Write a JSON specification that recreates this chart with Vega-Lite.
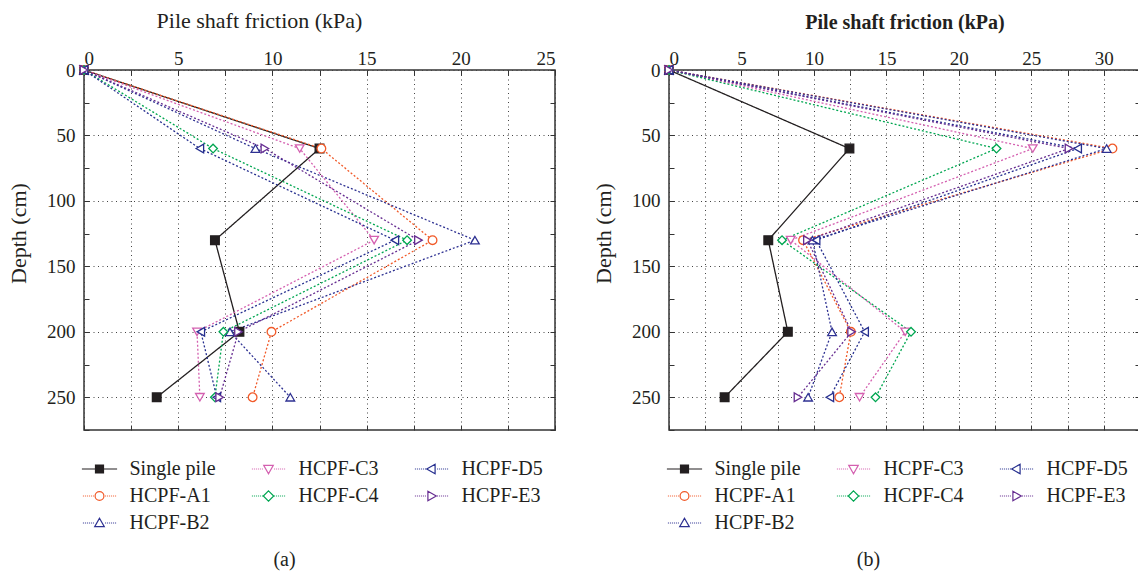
{
  "$schema": "https://vega.github.io/schema/vega-lite/v6.json",
  "padding": {"left": 6, "top": 8, "right": 0, "bottom": 0},
  "background": "white",
  "config": {
    "font": "Liberation Serif",
    "view": {"stroke": "#333333", "strokeWidth": 1.5},
    "axis": {
      "labelFont": "Liberation Serif", "titleFont": "Liberation Serif",
      "labelColor": "#231f20", "titleColor": "#231f20",
      "labelFontSize": 19, "titleFontSize": 22, "titleFontWeight": "normal",
      "domain": false, "tickColor": "#333333", "tickSize": -5, "tickWidth": 1,
      "gridColor": "#444444", "gridDash": [1, 3.5], "gridWidth": 1
    },
    "legend": {"labelFont": "Liberation Serif", "labelFontSize": 20, "labelColor": "#231f20"},
    "title": {"font": "Liberation Serif", "fontSize": 20, "fontWeight": "normal", "color": "#231f20"}
  },
  "datasets": {
    "a": [
      {"series": "Single pile", "depth": 0, "friction": 0},
      {"series": "Single pile", "depth": 60, "friction": 12.5},
      {"series": "Single pile", "depth": 130, "friction": 6.95},
      {"series": "Single pile", "depth": 200, "friction": 8.25},
      {"series": "Single pile", "depth": 250, "friction": 3.86},
      {"series": "HCPF-A1", "depth": 0, "friction": 0},
      {"series": "HCPF-A1", "depth": 60, "friction": 12.6},
      {"series": "HCPF-A1", "depth": 130, "friction": 18.5},
      {"series": "HCPF-A1", "depth": 200, "friction": 9.95},
      {"series": "HCPF-A1", "depth": 250, "friction": 8.95},
      {"series": "HCPF-B2", "depth": 0, "friction": 0},
      {"series": "HCPF-B2", "depth": 60, "friction": 9.1},
      {"series": "HCPF-B2", "depth": 130, "friction": 20.75},
      {"series": "HCPF-B2", "depth": 200, "friction": 7.75},
      {"series": "HCPF-B2", "depth": 250, "friction": 10.95},
      {"series": "HCPF-C3", "depth": 0, "friction": 0},
      {"series": "HCPF-C3", "depth": 60, "friction": 11.45},
      {"series": "HCPF-C3", "depth": 130, "friction": 15.4},
      {"series": "HCPF-C3", "depth": 200, "friction": 6.0},
      {"series": "HCPF-C3", "depth": 250, "friction": 6.15},
      {"series": "HCPF-C4", "depth": 0, "friction": 0},
      {"series": "HCPF-C4", "depth": 60, "friction": 6.85},
      {"series": "HCPF-C4", "depth": 130, "friction": 17.15},
      {"series": "HCPF-C4", "depth": 200, "friction": 7.4},
      {"series": "HCPF-C4", "depth": 250, "friction": 6.95},
      {"series": "HCPF-D5", "depth": 0, "friction": 0},
      {"series": "HCPF-D5", "depth": 60, "friction": 6.15},
      {"series": "HCPF-D5", "depth": 130, "friction": 16.5},
      {"series": "HCPF-D5", "depth": 200, "friction": 6.2},
      {"series": "HCPF-D5", "depth": 250, "friction": 7.05},
      {"series": "HCPF-E3", "depth": 0, "friction": 0},
      {"series": "HCPF-E3", "depth": 60, "friction": 9.6},
      {"series": "HCPF-E3", "depth": 130, "friction": 17.75},
      {"series": "HCPF-E3", "depth": 200, "friction": 8.2},
      {"series": "HCPF-E3", "depth": 250, "friction": 7.2}
    ],
    "b": [
      {"series": "Single pile", "depth": 0, "friction": 0},
      {"series": "Single pile", "depth": 60, "friction": 12.45},
      {"series": "Single pile", "depth": 130, "friction": 6.85},
      {"series": "Single pile", "depth": 200, "friction": 8.2},
      {"series": "Single pile", "depth": 250, "friction": 3.84},
      {"series": "HCPF-A1", "depth": 0, "friction": 0},
      {"series": "HCPF-A1", "depth": 60, "friction": 30.6},
      {"series": "HCPF-A1", "depth": 130, "friction": 9.25},
      {"series": "HCPF-A1", "depth": 200, "friction": 12.55},
      {"series": "HCPF-A1", "depth": 250, "friction": 11.75},
      {"series": "HCPF-B2", "depth": 0, "friction": 0},
      {"series": "HCPF-B2", "depth": 60, "friction": 30.2},
      {"series": "HCPF-B2", "depth": 130, "friction": 9.9},
      {"series": "HCPF-B2", "depth": 200, "friction": 11.25},
      {"series": "HCPF-B2", "depth": 250, "friction": 9.6},
      {"series": "HCPF-C3", "depth": 0, "friction": 0},
      {"series": "HCPF-C3", "depth": 60, "friction": 25.1},
      {"series": "HCPF-C3", "depth": 130, "friction": 8.4},
      {"series": "HCPF-C3", "depth": 200, "friction": 16.3},
      {"series": "HCPF-C3", "depth": 250, "friction": 13.15},
      {"series": "HCPF-C4", "depth": 0, "friction": 0},
      {"series": "HCPF-C4", "depth": 60, "friction": 22.6},
      {"series": "HCPF-C4", "depth": 130, "friction": 7.8},
      {"series": "HCPF-C4", "depth": 200, "friction": 16.7},
      {"series": "HCPF-C4", "depth": 250, "friction": 14.25},
      {"series": "HCPF-D5", "depth": 0, "friction": 0},
      {"series": "HCPF-D5", "depth": 60, "friction": 28.2},
      {"series": "HCPF-D5", "depth": 130, "friction": 10.15},
      {"series": "HCPF-D5", "depth": 200, "friction": 13.5},
      {"series": "HCPF-D5", "depth": 250, "friction": 11.1},
      {"series": "HCPF-E3", "depth": 0, "friction": 0},
      {"series": "HCPF-E3", "depth": 60, "friction": 27.6},
      {"series": "HCPF-E3", "depth": 130, "friction": 9.55},
      {"series": "HCPF-E3", "depth": 200, "friction": 12.6},
      {"series": "HCPF-E3", "depth": 250, "friction": 8.9}
    ]
  },
  "spacing": 34,
  "hconcat": [
    {
      "width": 471, "height": 360,
      "data": {"name": "a"},
      "title": {"text": "(a)", "orient": "bottom", "anchor": "middle", "dx": -35, "offset": 17},
      "layer": [
        {
          "mark": {"type": "line", "strokeWidth": 1.3},
          "encoding": {
            "x": {"field": "friction", "type": "quantitative", "scale": {"domain": [0, 25], "nice": false, "zero": false},
              "axis": {"orient": "top", "title": "Pile shaft friction (kPa)", "titleX": 175,
                "values": [0, 2.5, 5, 7.5, 10, 12.5, 15, 17.5, 20, 22.5, 25],
                "labelExpr": "datum.value % 5 === 0 ? datum.label : ''",
                "grid": true, "labelPadding": 7, "titlePadding": 17}},
            "y": {"field": "depth", "type": "quantitative", "scale": {"domain": [0, 275], "reverse": true, "nice": false, "zero": false},
              "axis": {"orient": "left", "title": "Depth (cm)", "titleY": 163,
                "values": [0, 25, 50, 75, 100, 125, 150, 175, 200, 225, 250, 275],
                "labelExpr": "datum.value % 50 === 0 ? datum.label : ''",
                "grid": true,
                "gridOpacity": {"condition": {"test": "datum.value % 50 === 0", "value": 1}, "value": 0},
                "labelPadding": 14, "titlePadding": 16}},
            "color": {"field": "series", "type": "nominal",
              "scale": {"domain": ["Single pile", "HCPF-C3", "HCPF-D5", "HCPF-A1", "HCPF-C4", "HCPF-E3", "HCPF-B2"],
                "range": ["#231f20", "#d460b0", "#262f8f", "#f15a29", "#00a651", "#662d91", "#2e3192"]}, "legend": null},
            "strokeDash": {"field": "series", "type": "nominal",
              "scale": {"domain": ["Single pile", "HCPF-C3", "HCPF-D5", "HCPF-A1", "HCPF-C4", "HCPF-E3", "HCPF-B2"],
                "range": [[1, 0], [2, 2], [2, 2], [2, 2], [2, 2], [2, 2], [2, 2]]}, "legend": null},
            "order": {"field": "depth", "type": "quantitative"}
          }
        },
        {
          "mark": {"type": "point", "opacity": 1, "size": 75, "strokeWidth": 1.3},
          "encoding": {
            "x": {"field": "friction", "type": "quantitative", "axis": null},
            "y": {"field": "depth", "type": "quantitative", "axis": null},
            "color": {"field": "series", "type": "nominal",
              "scale": {"domain": ["Single pile", "HCPF-C3", "HCPF-D5", "HCPF-A1", "HCPF-C4", "HCPF-E3", "HCPF-B2"],
                "range": ["#231f20", "#d460b0", "#262f8f", "#f15a29", "#00a651", "#662d91", "#2e3192"]}, "legend": null},
            "fill": {"field": "series", "type": "nominal",
              "scale": {"domain": ["Single pile", "HCPF-C3", "HCPF-D5", "HCPF-A1", "HCPF-C4", "HCPF-E3", "HCPF-B2"],
                "range": ["#231f20", "white", "white", "white", "white", "white", "white"]}, "legend": null},
            "shape": {"field": "series", "type": "nominal",
              "scale": {"domain": ["Single pile", "HCPF-C3", "HCPF-D5", "HCPF-A1", "HCPF-C4", "HCPF-E3", "HCPF-B2"],
                "range": ["square", "triangle-down", "triangle-left", "circle", "diamond", "triangle-right", "triangle-up"]}, "legend": null}
          }
        },
        {
          "transform": [{"filter": "false"}],
          "mark": {"type": "point", "opacity": 1, "size": 64, "strokeWidth": 1.2},
          "encoding": {
            "x": {"field": "friction", "type": "quantitative",
              "axis": {"orient": "bottom", "title": null, "labels": false, "grid": false,
                "values": [0, 2.5, 5, 7.5, 10, 12.5, 15, 17.5, 20, 22.5, 25]}},
            "y": {"field": "depth", "type": "quantitative",
              "axis": {"orient": "right", "title": null, "labels": false, "grid": false,
                "values": [0, 25, 50, 75, 100, 125, 150, 175, 200, 225, 250, 275]}},
            "color": {"field": "series", "type": "nominal",
              "scale": {"domain": ["Single pile", "HCPF-C3", "HCPF-D5", "HCPF-A1", "HCPF-C4", "HCPF-E3", "HCPF-B2"],
                "range": ["#231f20", "#d460b0", "#262f8f", "#f15a29", "#00a651", "#662d91", "#2e3192"]}},
            "fill": {"field": "series", "type": "nominal",
              "scale": {"domain": ["Single pile", "HCPF-C3", "HCPF-D5", "HCPF-A1", "HCPF-C4", "HCPF-E3", "HCPF-B2"],
                "range": ["#231f20", "white", "white", "white", "white", "white", "white"]}},
            "shape": {"field": "series", "type": "nominal",
              "scale": {"domain": ["Single pile", "HCPF-C3", "HCPF-D5", "HCPF-A1", "HCPF-C4", "HCPF-E3", "HCPF-B2"],
                "range": [
                  "M-4.4,0H4.4M-1,-1H1V1H-1Z",
                  "M-4.15,0h0.25M-3.65,0h0.25M-3.15,0h0.25M-2.65,0h0.25M-2.15,0h0.25M-1.65,0h0.25M1.4,0h0.25M1.9,0h0.25M2.4,0h0.25M2.9,0h0.25M3.4,0h0.25M3.9,0h0.25M-1.2,-0.9H1.2L0,1.2Z",
                  "M-4.15,0h0.25M-3.65,0h0.25M-3.15,0h0.25M-2.65,0h0.25M-2.15,0h0.25M-1.65,0h0.25M1.4,0h0.25M1.9,0h0.25M2.4,0h0.25M2.9,0h0.25M3.4,0h0.25M3.9,0h0.25M-1.2,0L0.9,-1.2V1.2Z",
                  "M-4.15,0h0.25M-3.65,0h0.25M-3.15,0h0.25M-2.65,0h0.25M-2.15,0h0.25M-1.65,0h0.25M1.4,0h0.25M1.9,0h0.25M2.4,0h0.25M2.9,0h0.25M3.4,0h0.25M3.9,0h0.25M1.1,0A1.1,1.1,0,1,1,-1.1,0A1.1,1.1,0,1,1,1.1,0Z",
                  "M-4.15,0h0.25M-3.65,0h0.25M-3.15,0h0.25M-2.65,0h0.25M-2.15,0h0.25M-1.65,0h0.25M1.4,0h0.25M1.9,0h0.25M2.4,0h0.25M2.9,0h0.25M3.4,0h0.25M3.9,0h0.25M0,-1.3L1.3,0L0,1.3L-1.3,0Z",
                  "M-4.15,0h0.25M-3.65,0h0.25M-3.15,0h0.25M-2.65,0h0.25M-2.15,0h0.25M-1.65,0h0.25M1.4,0h0.25M1.9,0h0.25M2.4,0h0.25M2.9,0h0.25M3.4,0h0.25M3.9,0h0.25M1.2,0L-0.9,-1.2V1.2Z",
                  "M-4.15,0h0.25M-3.65,0h0.25M-3.15,0h0.25M-2.65,0h0.25M-2.15,0h0.25M-1.65,0h0.25M1.4,0h0.25M1.9,0h0.25M2.4,0h0.25M2.9,0h0.25M3.4,0h0.25M3.9,0h0.25M0,-1.2L1.2,0.9H-1.2Z"
                ]},
              "legend": {"orient": "none", "legendX": 5.5, "legendY": 389, "columns": 3, "title": null,
                "values": ["Single pile", "HCPF-A1", "HCPF-E3", "HCPF-C3", "HCPF-C4", "HCPF-B2", "HCPF-D5"],
                "labelOffset": 20, "columnPadding": 33, "rowPadding": 7, "symbolSize": 64,
                "symbolStrokeWidth": 1.2, "padding": 0}}
          }
        }
      ],
      "resolve": {"scale": {"color": "independent", "fill": "independent", "shape": "independent", "strokeDash": "independent"}}
    },
    {
      "width": 471, "height": 360,
      "data": {"name": "b"},
      "title": {"text": "(b)", "orient": "bottom", "anchor": "middle", "dx": -36, "offset": 17},
      "layer": [
        {
          "mark": {"type": "line", "strokeWidth": 1.3},
          "encoding": {
            "x": {"field": "friction", "type": "quantitative", "scale": {"domain": [0, 32.5], "nice": false, "zero": false},
              "axis": {"orient": "top", "title": "Pile shaft friction (kPa)", "titleFontWeight": "bold", "titleFontSize": 20,
                "values": [0, 2.5, 5, 7.5, 10, 12.5, 15, 17.5, 20, 22.5, 25, 27.5, 30, 32.5],
                "labelExpr": "datum.value % 5 === 0 ? datum.label : ''",
                "grid": true, "labelPadding": 7, "titlePadding": 17}},
            "y": {"field": "depth", "type": "quantitative", "scale": {"domain": [0, 275], "reverse": true, "nice": false, "zero": false},
              "axis": {"orient": "left", "title": "Depth (cm)", "titleY": 163,
                "values": [0, 25, 50, 75, 100, 125, 150, 175, 200, 225, 250, 275],
                "labelExpr": "datum.value % 50 === 0 ? datum.label : ''",
                "grid": true,
                "gridOpacity": {"condition": {"test": "datum.value % 50 === 0", "value": 1}, "value": 0},
                "labelPadding": 14, "titlePadding": 16}},
            "color": {"field": "series", "type": "nominal",
              "scale": {"domain": ["Single pile", "HCPF-C3", "HCPF-D5", "HCPF-A1", "HCPF-C4", "HCPF-E3", "HCPF-B2"],
                "range": ["#231f20", "#d460b0", "#262f8f", "#f15a29", "#00a651", "#662d91", "#2e3192"]}, "legend": null},
            "strokeDash": {"field": "series", "type": "nominal",
              "scale": {"domain": ["Single pile", "HCPF-C3", "HCPF-D5", "HCPF-A1", "HCPF-C4", "HCPF-E3", "HCPF-B2"],
                "range": [[1, 0], [2, 2], [2, 2], [2, 2], [2, 2], [2, 2], [2, 2]]}, "legend": null},
            "order": {"field": "depth", "type": "quantitative"}
          }
        },
        {
          "mark": {"type": "point", "opacity": 1, "size": 75, "strokeWidth": 1.3},
          "encoding": {
            "x": {"field": "friction", "type": "quantitative", "axis": null},
            "y": {"field": "depth", "type": "quantitative", "axis": null},
            "color": {"field": "series", "type": "nominal",
              "scale": {"domain": ["Single pile", "HCPF-C3", "HCPF-D5", "HCPF-A1", "HCPF-C4", "HCPF-E3", "HCPF-B2"],
                "range": ["#231f20", "#d460b0", "#262f8f", "#f15a29", "#00a651", "#662d91", "#2e3192"]}, "legend": null},
            "fill": {"field": "series", "type": "nominal",
              "scale": {"domain": ["Single pile", "HCPF-C3", "HCPF-D5", "HCPF-A1", "HCPF-C4", "HCPF-E3", "HCPF-B2"],
                "range": ["#231f20", "white", "white", "white", "white", "white", "white"]}, "legend": null},
            "shape": {"field": "series", "type": "nominal",
              "scale": {"domain": ["Single pile", "HCPF-C3", "HCPF-D5", "HCPF-A1", "HCPF-C4", "HCPF-E3", "HCPF-B2"],
                "range": ["square", "triangle-down", "triangle-left", "circle", "diamond", "triangle-right", "triangle-up"]}, "legend": null}
          }
        },
        {
          "transform": [{"filter": "false"}],
          "mark": {"type": "point", "opacity": 1, "size": 64, "strokeWidth": 1.2},
          "encoding": {
            "x": {"field": "friction", "type": "quantitative",
              "axis": {"orient": "bottom", "title": null, "labels": false, "grid": false,
                "values": [0, 2.5, 5, 7.5, 10, 12.5, 15, 17.5, 20, 22.5, 25, 27.5, 30, 32.5]}},
            "y": {"field": "depth", "type": "quantitative",
              "axis": {"orient": "right", "title": null, "labels": false, "grid": false,
                "values": [0, 25, 50, 75, 100, 125, 150, 175, 200, 225, 250, 275]}},
            "color": {"field": "series", "type": "nominal",
              "scale": {"domain": ["Single pile", "HCPF-C3", "HCPF-D5", "HCPF-A1", "HCPF-C4", "HCPF-E3", "HCPF-B2"],
                "range": ["#231f20", "#d460b0", "#262f8f", "#f15a29", "#00a651", "#662d91", "#2e3192"]}},
            "fill": {"field": "series", "type": "nominal",
              "scale": {"domain": ["Single pile", "HCPF-C3", "HCPF-D5", "HCPF-A1", "HCPF-C4", "HCPF-E3", "HCPF-B2"],
                "range": ["#231f20", "white", "white", "white", "white", "white", "white"]}},
            "shape": {"field": "series", "type": "nominal",
              "scale": {"domain": ["Single pile", "HCPF-C3", "HCPF-D5", "HCPF-A1", "HCPF-C4", "HCPF-E3", "HCPF-B2"],
                "range": [
                  "M-4.4,0H4.4M-1,-1H1V1H-1Z",
                  "M-4.15,0h0.25M-3.65,0h0.25M-3.15,0h0.25M-2.65,0h0.25M-2.15,0h0.25M-1.65,0h0.25M1.4,0h0.25M1.9,0h0.25M2.4,0h0.25M2.9,0h0.25M3.4,0h0.25M3.9,0h0.25M-1.2,-0.9H1.2L0,1.2Z",
                  "M-4.15,0h0.25M-3.65,0h0.25M-3.15,0h0.25M-2.65,0h0.25M-2.15,0h0.25M-1.65,0h0.25M1.4,0h0.25M1.9,0h0.25M2.4,0h0.25M2.9,0h0.25M3.4,0h0.25M3.9,0h0.25M-1.2,0L0.9,-1.2V1.2Z",
                  "M-4.15,0h0.25M-3.65,0h0.25M-3.15,0h0.25M-2.65,0h0.25M-2.15,0h0.25M-1.65,0h0.25M1.4,0h0.25M1.9,0h0.25M2.4,0h0.25M2.9,0h0.25M3.4,0h0.25M3.9,0h0.25M1.1,0A1.1,1.1,0,1,1,-1.1,0A1.1,1.1,0,1,1,1.1,0Z",
                  "M-4.15,0h0.25M-3.65,0h0.25M-3.15,0h0.25M-2.65,0h0.25M-2.15,0h0.25M-1.65,0h0.25M1.4,0h0.25M1.9,0h0.25M2.4,0h0.25M2.9,0h0.25M3.4,0h0.25M3.9,0h0.25M0,-1.3L1.3,0L0,1.3L-1.3,0Z",
                  "M-4.15,0h0.25M-3.65,0h0.25M-3.15,0h0.25M-2.65,0h0.25M-2.15,0h0.25M-1.65,0h0.25M1.4,0h0.25M1.9,0h0.25M2.4,0h0.25M2.9,0h0.25M3.4,0h0.25M3.9,0h0.25M1.2,0L-0.9,-1.2V1.2Z",
                  "M-4.15,0h0.25M-3.65,0h0.25M-3.15,0h0.25M-2.65,0h0.25M-2.15,0h0.25M-1.65,0h0.25M1.4,0h0.25M1.9,0h0.25M2.4,0h0.25M2.9,0h0.25M3.4,0h0.25M3.9,0h0.25M0,-1.2L1.2,0.9H-1.2Z"
                ]},
              "legend": {"orient": "none", "legendX": 5.5, "legendY": 389, "columns": 3, "title": null,
                "values": ["Single pile", "HCPF-A1", "HCPF-E3", "HCPF-C3", "HCPF-C4", "HCPF-B2", "HCPF-D5"],
                "labelOffset": 20, "columnPadding": 33, "rowPadding": 7, "symbolSize": 64,
                "symbolStrokeWidth": 1.2, "padding": 0}}
          }
        }
      ],
      "resolve": {"scale": {"color": "independent", "fill": "independent", "shape": "independent", "strokeDash": "independent"}}
    }
  ]
}
